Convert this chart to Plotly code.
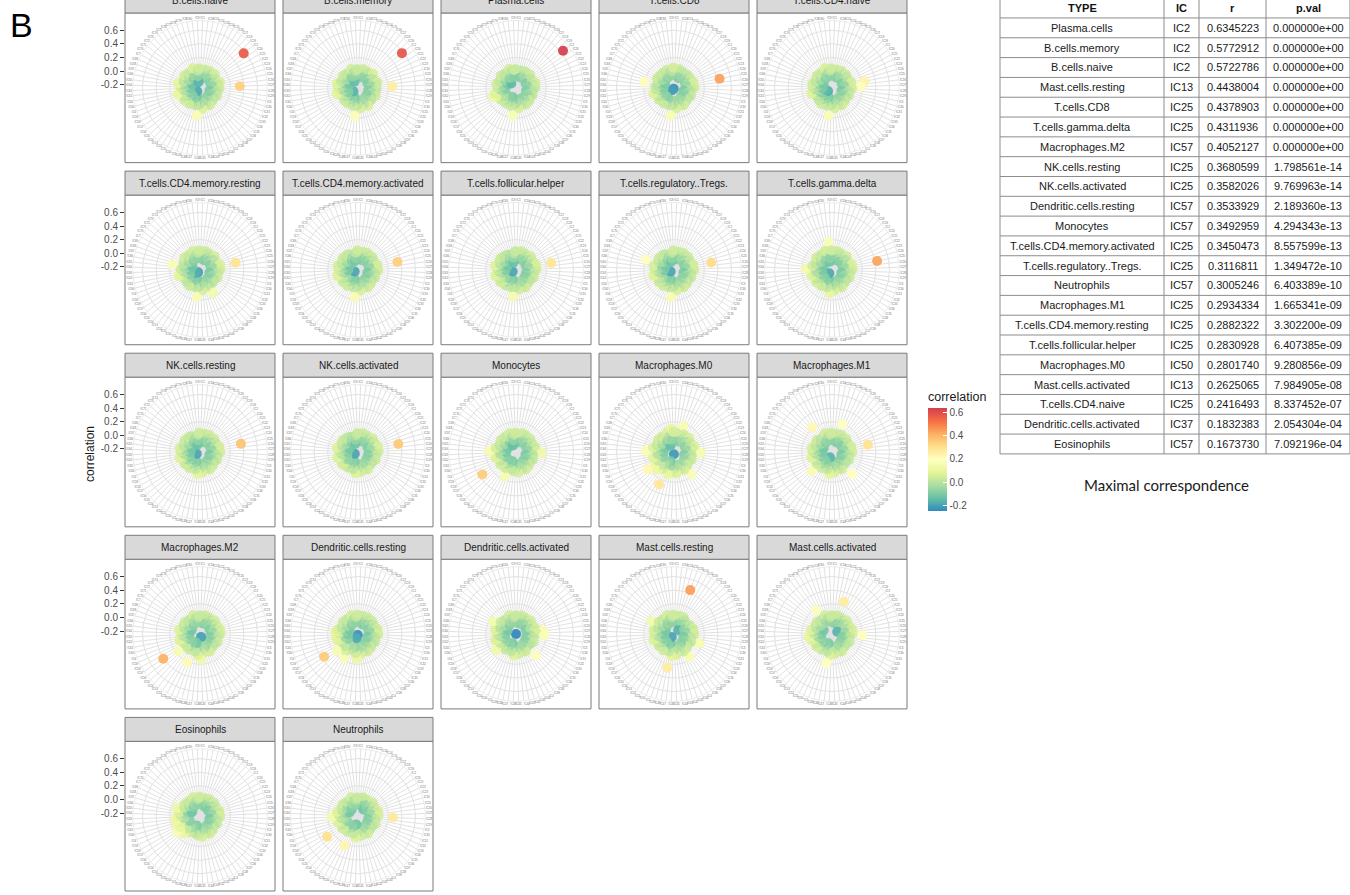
import plotly.graph_objects as go

W, H = 1350, 895

# ---------------- categories ----------------
IC_ORDER = [
    "IC1", "IC10", "IC11", "IC12", "IC13", "IC14", "IC15", "IC16", "IC17", "IC18",
    "IC19", "IC2", "IC20", "IC21", "IC22", "IC23", "IC24", "IC25", "IC26", "IC27",
    "IC28", "IC29", "IC3", "IC30", "IC31", "IC32", "IC33", "IC34", "IC35", "IC36",
    "IC37", "IC38", "IC39", "IC4", "IC40", "IC41", "IC42", "IC43", "IC44", "IC45",
    "IC46", "IC47", "IC48", "IC49", "IC5", "IC50", "IC51", "IC52", "IC53", "IC54",
    "IC55", "IC56", "IC57", "IC58", "IC59", "IC6", "IC60", "IC61", "IC62", "IC63",
    "IC64", "IC65", "IC66", "IC67", "IC68", "IC69", "IC7", "IC70", "IC71", "IC72",
    "IC73", "IC74", "IC75", "IC76", "IC77", "IC78", "IC79", "IC8", "IC80", "IC9",
]

# ---------------- series (correlation per IC, in IC_ORDER) ----------------
b_cells_naive = [
    -0.05, 0.01, -0.08, 0.03, -0.02, -0.09, 0.04, -0.04, 0.00, -0.06,
    0.05, 0.5722786, -0.03, 0.02, -0.08, -0.01, 0.06, 0.02, -0.06, 0.34,
    0.04, -0.04, 0.01, -0.10, -0.02, 0.03, -0.05, 0.00, -0.07, 0.01,
    0.02, -0.08, -0.01, 0.05, -0.04, 0.02, -0.06, -0.01, 0.07, -0.03,
    0.00, 0.17, -0.05, 0.02, -0.11, -0.01, -0.07, 0.04, -0.18, -0.09,
    0.02, 0.05, -0.04, 0.01, -0.08, 0.03, 0.10, -0.05, -0.01, -0.10,
    0.04, -0.02, 0.09, -0.06, 0.01, -0.12, 0.02, -0.04, 0.05, -0.03,
    0.00, 0.03, -0.08, 0.02, -0.05, 0.06, -0.16, -0.07, 0.01, 0.04]
b_cells_memory = [
    -0.04, 0.02, -0.07, 0.04, -0.03, -0.08, 0.03, -0.05, 0.01, -0.07,
    0.06, 0.5772912, -0.02, 0.01, -0.09, 0.00, 0.05, 0.03, -0.05, 0.26,
    0.03, -0.05, 0.02, -0.09, -0.03, 0.04, -0.04, -0.01, -0.08, 0.02,
    0.01, -0.07, 0.00, 0.06, -0.05, 0.01, -0.05, -0.02, 0.06, -0.04,
    0.01, 0.175, -0.06, 0.03, -0.10, -0.02, -0.06, 0.03, -0.02, -0.08,
    0.03, -0.16, -0.03, 0.00, -0.09, 0.04, 0.08, -0.04, -0.02, -0.09,
    0.05, -0.01, 0.07, -0.07, 0.02, -0.11, 0.01, -0.03, 0.04, -0.04,
    0.01, 0.02, -0.07, -0.14, -0.06, 0.05, -0.01, -0.06, 0.00, 0.03]
plasma_cells = [
    -0.06, 0.00, -0.07, 0.02, -0.01, -0.08, 0.03, -0.03, 0.02, -0.05,
    0.04, 0.6345223, -0.02, 0.01, -0.09, 0.00, 0.05, 0.01, -0.07, 0.04,
    0.03, -0.05, 0.00, -0.09, -0.01, 0.02, -0.04, -0.02, -0.06, 0.02,
    0.03, -0.07, -0.02, 0.04, -0.03, 0.01, -0.07, 0.00, 0.06, -0.04,
    -0.01, 0.17, -0.06, 0.03, -0.10, -0.02, -0.08, 0.03, -0.02, -0.08,
    0.01, 0.04, -0.03, 0.00, 0.08, 0.12, 0.07, -0.06, -0.02, -0.09,
    0.03, -0.03, 0.05, -0.05, 0.02, -0.11, 0.01, -0.05, 0.04, -0.15,
    -0.01, 0.02, -0.07, 0.01, -0.06, 0.05, 0.00, -0.08, 0.02, 0.03]
t_cells_cd8 = [
    -0.04, 0.02, -0.06, 0.04, -0.01, -0.09, 0.02, -0.05, 0.01, -0.06,
    0.03, 0.00, -0.04, 0.03, -0.07, -0.02, 0.05, 0.4378903, -0.05, 0.06,
    0.04, -0.03, 0.00, -0.10, -0.03, 0.03, -0.06, 0.01, -0.07, 0.00,
    0.02, -0.08, 0.00, 0.05, -0.05, 0.03, -0.04, -0.01, 0.06, -0.05,
    0.00, 0.17, -0.04, 0.02, -0.23, -0.01, -0.07, 0.03, -0.20, -0.08,
    0.02, 0.04, -0.05, 0.00, -0.07, 0.02, 0.07, -0.06, 0.01, -0.09,
    0.03, 0.00, 0.20, -0.06, 0.01, -0.10, 0.04, -0.04, 0.03, -0.03,
    0.01, 0.03, -0.07, 0.02, -0.05, 0.04, -0.01, -0.06, 0.00, 0.05]
t_cells_cd4_naive = [
    -0.05, 0.01, -0.07, 0.03, -0.02, -0.08, 0.04, -0.04, 0.01, -0.05,
    0.04, 0.01, -0.03, 0.02, -0.09, -0.01, 0.05, 0.2416493, -0.06, 0.18,
    0.05, -0.04, 0.01, -0.10, -0.02, 0.03, -0.05, 0.00, -0.07, 0.01,
    0.03, -0.07, -0.01, 0.05, -0.04, 0.02, -0.06, 0.00, 0.06, -0.03,
    0.01, 0.17, -0.05, 0.03, -0.10, -0.01, -0.07, 0.04, -0.03, -0.09,
    0.02, -0.17, -0.04, 0.01, -0.08, -0.15, 0.07, -0.05, -0.01, -0.10,
    0.04, -0.02, 0.05, -0.06, 0.01, -0.11, 0.02, -0.04, 0.04, -0.03,
    0.00, 0.03, -0.08, 0.02, -0.05, 0.06, -0.02, -0.07, 0.01, 0.04]
t_cells_cd4_memory_resting = [
    -0.04, 0.02, -0.08, 0.04, -0.01, -0.09, 0.03, -0.04, 0.00, -0.06,
    0.05, -0.01, -0.03, 0.01, -0.08, -0.01, 0.06, 0.2882322, -0.05, 0.06,
    0.04, -0.04, 0.02, -0.10, -0.02, 0.04, -0.05, 0.00, -0.07, 0.01,
    0.02, -0.08, -0.01, 0.14, -0.04, 0.02, -0.06, 0.00, 0.06, -0.03,
    0.00, 0.16, -0.05, 0.02, -0.11, -0.01, -0.07, 0.04, -0.20, -0.09,
    0.02, -0.17, -0.04, 0.01, -0.08, 0.03, 0.08, -0.05, -0.01, -0.10,
    0.04, -0.02, 0.17, -0.06, 0.01, -0.12, 0.02, -0.04, 0.05, -0.03,
    0.00, 0.03, -0.08, 0.02, -0.05, 0.05, -0.02, -0.07, 0.01, 0.04]
t_cells_cd4_memory_activated = [
    -0.05, 0.01, -0.07, 0.03, -0.02, -0.09, 0.04, -0.04, 0.01, -0.07,
    0.04, -0.02, -0.03, 0.02, -0.08, -0.01, 0.05, 0.3450473, -0.06, 0.05,
    0.05, -0.04, 0.01, -0.10, -0.02, 0.03, -0.05, 0.00, -0.07, 0.01,
    0.03, -0.08, -0.01, 0.05, -0.04, 0.02, -0.06, -0.01, 0.06, -0.03,
    0.00, 0.16, -0.05, 0.02, -0.10, -0.01, -0.07, 0.04, -0.03, -0.09,
    0.02, 0.04, -0.04, 0.01, -0.19, 0.03, 0.07, -0.05, -0.01, -0.10,
    0.04, -0.02, 0.06, -0.06, 0.01, -0.11, 0.02, -0.04, 0.04, -0.03,
    0.00, 0.03, -0.08, 0.02, -0.05, -0.11, -0.02, -0.07, 0.01, 0.04]
t_cells_follicular_helper = [
    -0.04, 0.02, -0.07, 0.04, -0.01, -0.08, 0.03, -0.05, 0.00, -0.06,
    0.05, -0.01, -0.04, 0.03, -0.09, -0.02, 0.06, 0.2830928, -0.05, 0.06,
    0.04, -0.03, 0.02, -0.09, -0.01, 0.04, -0.06, 0.01, -0.08, 0.00,
    0.02, -0.07, 0.00, 0.05, -0.05, 0.03, -0.05, -0.02, 0.05, -0.04,
    0.01, 0.15, -0.04, 0.02, -0.10, 0.00, -0.06, 0.03, -0.02, -0.08,
    0.03, 0.05, -0.05, 0.02, -0.19, 0.04, 0.07, -0.04, 0.00, -0.09,
    0.03, -0.01, 0.07, -0.07, 0.00, -0.11, 0.03, -0.03, 0.04, -0.04,
    0.01, 0.02, -0.08, 0.01, -0.04, -0.13, -0.01, -0.06, 0.00, 0.03]
t_cells_regulatory_tregs = [
    -0.05, 0.01, -0.08, 0.03, -0.02, -0.08, 0.04, -0.04, 0.01, -0.05,
    0.04, -0.02, -0.03, 0.02, -0.08, -0.01, 0.05, 0.3116811, -0.06, 0.05,
    0.05, -0.04, 0.01, -0.10, -0.02, 0.03, -0.05, 0.00, -0.07, 0.01,
    0.03, -0.07, -0.01, 0.05, -0.04, 0.02, -0.06, -0.01, 0.06, -0.03,
    0.00, 0.16, -0.05, 0.02, -0.10, -0.01, -0.07, 0.04, -0.03, -0.09,
    0.02, 0.04, -0.04, 0.01, -0.19, 0.03, 0.07, -0.05, -0.01, -0.10,
    0.04, -0.02, 0.06, -0.06, 0.20, -0.11, 0.02, -0.04, 0.04, -0.03,
    0.00, 0.03, -0.08, 0.02, -0.05, -0.12, -0.02, -0.07, 0.01, 0.04]
t_cells_gamma_delta = [
    -0.04, 0.02, -0.07, 0.04, -0.01, -0.09, 0.03, -0.05, 0.00, -0.08,
    0.05, -0.01, -0.03, 0.01, -0.08, -0.01, 0.06, 0.4311936, -0.05, 0.06,
    0.04, -0.04, 0.02, -0.10, -0.02, 0.04, -0.05, 0.00, -0.07, 0.01,
    0.02, -0.08, -0.01, 0.05, -0.04, 0.02, -0.06, 0.00, 0.06, -0.03,
    0.00, 0.10, -0.05, 0.02, -0.11, -0.01, -0.07, 0.04, -0.18, -0.09,
    0.02, 0.05, -0.04, 0.01, -0.08, 0.03, 0.07, -0.05, -0.01, -0.10,
    0.14, -0.02, 0.05, -0.06, 0.01, -0.11, 0.02, -0.04, 0.05, -0.03,
    0.00, 0.03, -0.08, 0.02, -0.05, 0.05, -0.12, -0.07, 0.17, 0.04]
nk_cells_resting = [
    -0.05, 0.01, -0.07, 0.03, -0.02, -0.09, 0.04, -0.04, 0.01, -0.06,
    0.04, -0.02, -0.03, 0.02, -0.08, -0.01, 0.05, 0.3680599, -0.06, 0.05,
    0.05, -0.04, 0.01, -0.10, -0.02, 0.03, -0.05, 0.00, -0.07, 0.01,
    0.03, -0.08, -0.01, 0.05, -0.04, 0.02, -0.06, -0.01, 0.06, -0.03,
    0.00, 0.08, -0.05, 0.02, -0.10, -0.01, -0.07, 0.04, -0.03, -0.09,
    0.02, 0.04, -0.04, -0.19, -0.08, 0.03, 0.07, -0.05, -0.01, -0.10,
    0.04, -0.02, 0.06, -0.06, 0.01, -0.11, 0.02, -0.04, 0.04, -0.03,
    0.00, 0.03, -0.08, 0.02, -0.05, -0.13, -0.02, -0.07, 0.01, 0.04]
nk_cells_activated = [
    -0.04, 0.02, -0.08, 0.04, -0.01, -0.08, 0.03, -0.05, 0.00, -0.06,
    0.05, -0.01, -0.04, 0.03, -0.09, -0.02, 0.06, 0.3582026, -0.05, 0.06,
    0.04, -0.03, 0.02, -0.09, -0.01, 0.04, -0.06, 0.01, -0.08, 0.00,
    0.02, -0.07, 0.00, 0.05, -0.05, 0.03, -0.05, -0.02, 0.05, -0.04,
    0.01, 0.07, -0.04, 0.02, -0.10, 0.00, -0.06, 0.03, -0.02, -0.08,
    0.03, 0.05, -0.05, -0.19, -0.07, 0.04, 0.07, -0.04, 0.00, -0.09,
    0.03, -0.01, 0.07, -0.07, 0.00, -0.11, 0.03, -0.03, 0.04, -0.04,
    0.01, 0.02, -0.08, 0.01, -0.04, -0.12, -0.01, -0.06, 0.00, 0.03]
monocytes = [
    -0.05, 0.01, -0.07, 0.03, 0.05, -0.09, 0.04, -0.04, 0.01, -0.06,
    0.04, -0.02, -0.03, 0.02, -0.08, -0.01, 0.05, 0.02, -0.06, 0.05,
    0.13, -0.04, 0.01, -0.10, -0.02, 0.03, -0.05, 0.00, -0.07, 0.01,
    0.03, -0.08, -0.01, 0.05, -0.04, 0.02, -0.06, -0.01, 0.06, -0.03,
    0.00, 0.04, -0.05, 0.02, -0.10, 0.15, -0.07, 0.04, -0.03, -0.09,
    0.02, 0.05, 0.3492959, 0.01, -0.08, 0.03, 0.07, -0.05, -0.01, -0.10,
    0.15, -0.02, 0.06, -0.06, 0.01, -0.11, 0.02, -0.04, 0.04, -0.03,
    0.00, 0.03, -0.08, 0.02, -0.14, 0.05, -0.02, -0.07, 0.01, 0.04]
macrophages_m0 = [
    -0.04, 0.03, -0.06, 0.05, 0.16, -0.08, 0.05, -0.03, 0.02, -0.05,
    0.06, -0.01, -0.02, 0.03, -0.07, 0.00, 0.07, 0.03, -0.05, 0.06,
    0.15, -0.03, 0.02, -0.09, -0.01, 0.04, -0.04, 0.01, -0.06, 0.02,
    0.04, 0.17, 0.00, 0.06, -0.03, 0.03, -0.05, 0.00, 0.07, -0.02,
    -0.21, 0.05, -0.04, 0.10, -0.10, 0.2801740, -0.06, 0.05, -0.02, 0.11,
    0.03, 0.12, 0.22, 0.02, -0.07, 0.04, 0.08, -0.04, 0.00, -0.09,
    0.17, -0.01, 0.07, -0.05, 0.02, -0.10, 0.03, -0.03, 0.05, -0.02,
    0.01, 0.04, -0.07, -0.14, -0.04, 0.06, -0.01, -0.06, 0.10, 0.05]
macrophages_m1 = [
    -0.05, 0.01, -0.07, 0.03, 0.19, -0.09, 0.04, -0.04, 0.01, -0.06,
    0.04, -0.02, -0.08, 0.02, -0.08, -0.01, 0.05, 0.2934334, -0.06, 0.05,
    0.05, -0.04, 0.01, -0.10, -0.02, 0.03, -0.05, 0.00, -0.07, 0.01,
    0.19, -0.08, -0.01, 0.05, -0.04, 0.02, -0.06, -0.01, 0.06, -0.03,
    0.00, 0.08, -0.05, 0.02, -0.16, -0.01, -0.07, 0.04, -0.03, -0.09,
    0.16, 0.04, -0.04, 0.01, -0.08, 0.03, 0.07, -0.05, -0.01, -0.10,
    0.04, -0.02, 0.06, -0.06, 0.01, -0.11, 0.02, -0.04, 0.04, -0.03,
    0.00, 0.22, -0.08, 0.02, -0.05, 0.05, -0.02, -0.07, 0.01, 0.04]
macrophages_m2 = [
    -0.04, 0.02, -0.08, 0.04, -0.01, -0.08, 0.03, -0.05, 0.00, -0.06,
    0.05, -0.01, -0.04, 0.03, -0.09, -0.02, 0.06, 0.03, -0.05, 0.06,
    0.04, -0.03, 0.02, -0.09, -0.01, 0.04, -0.06, 0.01, -0.08, 0.00,
    0.02, -0.07, 0.00, 0.05, -0.05, -0.20, -0.05, -0.02, 0.05, 0.13,
    0.01, 0.07, -0.04, 0.02, -0.10, 0.21, -0.11, 0.03, -0.02, -0.08,
    0.03, 0.16, 0.4052127, 0.02, -0.07, 0.04, 0.07, -0.04, 0.00, -0.09,
    0.03, -0.01, 0.07, -0.07, 0.00, -0.11, 0.03, -0.03, 0.04, -0.04,
    0.01, 0.02, -0.08, 0.01, -0.04, 0.05, -0.01, -0.06, 0.00, 0.03]
dendritic_cells_resting = [
    -0.05, 0.01, -0.07, 0.03, -0.02, -0.09, 0.04, -0.04, 0.01, -0.06,
    0.04, -0.02, -0.03, 0.02, -0.08, -0.01, 0.05, 0.02, -0.06, 0.05,
    0.05, -0.04, 0.01, -0.10, -0.02, 0.03, -0.05, 0.00, -0.07, 0.01,
    0.03, -0.08, -0.01, 0.05, -0.04, 0.02, -0.06, -0.01, 0.06, -0.03,
    0.12, 0.04, -0.05, -0.23, -0.18, -0.01, 0.16, 0.04, -0.03, 0.07,
    0.02, 0.15, 0.3533929, 0.01, -0.08, 0.03, 0.07, -0.05, 0.08, -0.10,
    0.04, 0.09, 0.06, -0.06, 0.01, -0.11, 0.02, -0.04, 0.04, -0.03,
    0.00, 0.03, -0.08, 0.02, -0.05, 0.05, -0.02, -0.07, 0.01, 0.04]
dendritic_cells_activated = [
    -0.04, 0.02, -0.08, 0.04, -0.01, -0.08, 0.03, -0.05, 0.00, -0.06,
    0.05, -0.01, -0.04, 0.03, -0.09, -0.02, 0.06, 0.03, 0.16, 0.06,
    0.17, -0.03, 0.02, -0.09, -0.01, 0.04, -0.244, 0.01, -0.08, 0.00,
    0.1832383, -0.07, 0.00, 0.05, -0.05, 0.03, -0.05, -0.02, 0.05, -0.04,
    0.01, 0.07, -0.04, 0.02, -0.10, 0.00, -0.06, 0.03, -0.02, -0.08,
    0.03, 0.13, -0.05, 0.02, -0.07, 0.04, 0.07, -0.04, 0.00, -0.09,
    0.03, -0.01, 0.07, -0.07, 0.00, -0.11, 0.14, -0.03, 0.04, -0.04,
    0.01, 0.02, -0.08, 0.01, -0.04, 0.05, -0.01, -0.06, 0.00, 0.03]
mast_cells_resting = [
    -0.05, 0.01, -0.07, 0.03, 0.4438004, -0.09, 0.04, -0.04, 0.01, -0.06,
    -0.16, -0.02, -0.03, 0.02, -0.08, -0.01, 0.05, 0.02, -0.06, 0.05,
    0.05, -0.04, 0.01, -0.10, 0.15, 0.03, -0.05, 0.00, -0.07, 0.01,
    0.03, -0.08, 0.16, 0.05, -0.04, 0.02, -0.06, -0.01, 0.06, -0.03,
    0.00, 0.08, 0.26, 0.02, -0.10, -0.01, -0.07, 0.04, -0.19, -0.09,
    0.02, 0.04, -0.04, 0.01, -0.08, 0.03, 0.07, -0.05, -0.01, -0.10,
    0.04, -0.02, 0.06, -0.06, 0.01, -0.11, 0.14, -0.04, 0.04, -0.03,
    0.00, 0.03, -0.08, -0.06, -0.05, 0.05, -0.02, -0.07, 0.01, 0.04]
mast_cells_activated = [
    -0.04, 0.02, -0.08, 0.04, 0.2625065, -0.08, 0.03, -0.05, 0.00, -0.06,
    0.05, -0.01, -0.04, 0.03, -0.16, -0.02, 0.06, 0.03, -0.05, 0.06,
    0.20, -0.03, 0.02, -0.09, -0.01, 0.04, -0.06, 0.01, -0.08, 0.00,
    0.02, -0.07, 0.00, 0.05, -0.05, 0.03, -0.05, -0.02, 0.05, -0.04,
    0.01, 0.07, 0.19, 0.02, -0.10, 0.00, -0.06, 0.03, -0.02, -0.08,
    0.03, 0.05, -0.05, 0.02, -0.07, 0.04, 0.07, -0.04, 0.10, -0.09,
    0.03, -0.01, 0.07, -0.07, 0.00, -0.11, 0.03, -0.03, 0.04, -0.04,
    0.01, 0.02, 0.18, 0.01, -0.04, 0.05, -0.01, -0.06, 0.00, 0.03]
eosinophils = [
    -0.05, 0.01, -0.07, 0.03, -0.02, -0.09, 0.04, -0.04, 0.01, -0.06,
    0.04, -0.02, -0.10, 0.02, -0.08, -0.01, 0.05, 0.02, -0.06, 0.05,
    0.05, -0.04, 0.01, -0.10, -0.02, 0.03, -0.05, 0.00, -0.07, 0.01,
    0.03, -0.08, -0.01, 0.05, -0.04, 0.02, -0.06, -0.01, 0.06, -0.03,
    0.00, 0.04, -0.05, 0.02, -0.10, -0.01, -0.07, 0.04, -0.03, 0.10,
    0.02, 0.12, 0.1673730, 0.09, -0.08, 0.11, 0.07, 0.12, -0.01, 0.10,
    0.04, -0.02, 0.06, -0.06, 0.11, -0.11, 0.02, -0.11, 0.04, -0.03,
    0.00, 0.03, -0.08, 0.02, -0.05, 0.05, -0.02, -0.07, 0.01, 0.04]
neutrophils = [
    -0.04, 0.02, -0.08, 0.04, -0.01, -0.08, 0.03, -0.05, -0.12, -0.06,
    0.05, -0.01, -0.04, 0.03, -0.09, -0.02, 0.06, 0.03, -0.05, 0.06,
    0.27, -0.03, 0.02, -0.09, -0.01, 0.04, -0.06, 0.01, -0.08, 0.00,
    0.02, -0.07, 0.00, 0.05, -0.05, 0.03, -0.05, -0.02, 0.05, -0.04,
    0.01, 0.07, -0.12, 0.02, -0.10, 0.23, -0.06, 0.03, -0.02, -0.08,
    0.03, 0.05, 0.3005246, 0.02, -0.07, 0.04, 0.07, -0.04, 0.00, 0.14,
    0.03, -0.01, 0.07, -0.07, 0.00, -0.11, 0.03, -0.03, 0.04, -0.04,
    -0.11, 0.02, -0.08, 0.01, -0.04, 0.05, -0.01, -0.06, 0.00, 0.03]

PANEL_NAMES = [
    "B.cells.naive", "B.cells.memory", "Plasma.cells", "T.cells.CD8", "T.cells.CD4.naive",
    "T.cells.CD4.memory.resting", "T.cells.CD4.memory.activated", "T.cells.follicular.helper",
    "T.cells.regulatory..Tregs.", "T.cells.gamma.delta",
    "NK.cells.resting", "NK.cells.activated", "Monocytes", "Macrophages.M0", "Macrophages.M1",
    "Macrophages.M2", "Dendritic.cells.resting", "Dendritic.cells.activated",
    "Mast.cells.resting", "Mast.cells.activated",
    "Eosinophils", "Neutrophils",
]
PANEL_VALUES = [
    b_cells_naive, b_cells_memory, plasma_cells, t_cells_cd8, t_cells_cd4_naive,
    t_cells_cd4_memory_resting, t_cells_cd4_memory_activated, t_cells_follicular_helper,
    t_cells_regulatory_tregs, t_cells_gamma_delta,
    nk_cells_resting, nk_cells_activated, monocytes, macrophages_m0, macrophages_m1,
    macrophages_m2, dendritic_cells_resting, dendritic_cells_activated,
    mast_cells_resting, mast_cells_activated,
    eosinophils, neutrophils,
]

R_TICKS = [-0.2, 0.0, 0.2, 0.4, 0.6]
R_TICK_TEXT = ["-0.2", "0.0", "0.2", "0.4", "0.6"]

# ---------------- table ----------------
TABLE_HEADER = ["TYPE", "IC", "r", "p.val"]
TABLE_TYPE = [
    "Plasma.cells", "B.cells.memory", "B.cells.naive", "Mast.cells.resting", "T.cells.CD8",
    "T.cells.gamma.delta", "Macrophages.M2", "NK.cells.resting", "NK.cells.activated",
    "Dendritic.cells.resting", "Monocytes", "T.cells.CD4.memory.activated",
    "T.cells.regulatory..Tregs.", "Neutrophils", "Macrophages.M1", "T.cells.CD4.memory.resting",
    "T.cells.follicular.helper", "Macrophages.M0", "Mast.cells.activated", "T.cells.CD4.naive",
    "Dendritic.cells.activated", "Eosinophils",
]
TABLE_IC = [
    "IC2", "IC2", "IC2", "IC13", "IC25", "IC25", "IC57", "IC25", "IC25", "IC57", "IC57",
    "IC25", "IC25", "IC57", "IC25", "IC25", "IC25", "IC50", "IC13", "IC25", "IC37", "IC57",
]
TABLE_R = [
    "0.6345223", "0.5772912", "0.5722786", "0.4438004", "0.4378903", "0.4311936",
    "0.4052127", "0.3680599", "0.3582026", "0.3533929", "0.3492959", "0.3450473",
    "0.3116811", "0.3005246", "0.2934334", "0.2882322", "0.2830928", "0.2801740",
    "0.2625065", "0.2416493", "0.1832383", "0.1673730",
]
TABLE_P = [
    "0.000000e+00", "0.000000e+00", "0.000000e+00", "0.000000e+00", "0.000000e+00",
    "0.000000e+00", "0.000000e+00", "1.798561e-14", "9.769963e-14", "2.189360e-13",
    "4.294343e-13", "8.557599e-13", "1.349472e-10", "6.403389e-10", "1.665341e-09",
    "3.302200e-09", "6.407385e-09", "9.280856e-09", "7.984905e-08", "8.337452e-07",
    "2.054304e-04", "7.092196e-04",
]

# ---------------- geometry / style ----------------
N_COLS = 5
COL0_CX, COL_PITCH = 200, 158
ROW0_CY, ROW_PITCH = 88, 182.5
HALF = 75          # half panel size (px)
STRIP_H = 24
R_OUT = 67.5       # outer ring radius (0.45 of panel)
GRID = "#E2E2E2"
FRAME = "#7A7A7A"
SPECTRAL_REV = ["#3288BD", "#66C2A5", "#ABDDA4", "#E6F598", "#FFFFBF",
                "#FEE08B", "#FDAE61", "#F46D43", "#D53E4F"]
FONT = "Liberation Sans, Arial, sans-serif"

TBL_X = [1000, 1164, 1199, 1266, 1350]   # column boundaries (px)
TBL_TOP, TBL_HEAD_H, TBL_ROW_H = -2, 20, 19.86
TBL_LINE = "#8C8C8C"

all_vals = [v for vals in PANEL_VALUES for v in vals]
R_MIN, R_MAX = min(all_vals), max(all_vals)
R_EXT = R_MIN + (R_MAX - R_MIN) * 0.45 / 0.4


def fx(px):
    return px / W


def fy(py):
    return 1 - py / H


fig = go.Figure()
layout = {}
shapes, annotations = [], []

for k, (name, vals) in enumerate(zip(PANEL_NAMES, PANEL_VALUES)):
    row, col = divmod(k, N_COLS)
    cx = COL0_CX + COL_PITCH * col
    cy = ROW0_CY + ROW_PITCH * row
    pname = "polar" if k == 0 else f"polar{k + 1}"
    layout[pname] = dict(
        domain=dict(x=[fx(cx - R_OUT), fx(cx + R_OUT)], y=[fy(cy + R_OUT), fy(cy - R_OUT)]),
        bgcolor="rgba(0,0,0,0)",
        radialaxis=dict(range=[R_MIN, R_EXT], tickmode="array", tickvals=R_TICKS,
                        showticklabels=False, ticks="", showline=False,
                        gridcolor=GRID, gridwidth=0.7, layer="below traces"),
        angularaxis=dict(type="category", categoryorder="array", categoryarray=IC_ORDER,
                         rotation=90 - 180 / len(IC_ORDER), direction="clockwise",
                         tickmode="array", tickvals=IC_ORDER, ticktext=IC_ORDER, ticks="",
                         showline=True, linecolor=GRID, linewidth=0.7,
                         gridcolor=GRID, gridwidth=0.7,
                         tickfont=dict(size=2.8, color="#6E6E6E", family=FONT),
                         layer="below traces"),
    )
    fig.add_trace(go.Scatterpolar(
        r=vals, theta=IC_ORDER, subplot=pname, mode="markers",
        marker=dict(color=vals, coloraxis="coloraxis", size=10, opacity=0.93,
                    line=dict(width=0)),
        showlegend=False, hoverinfo="skip"))
    shapes.append(dict(type="rect", xref="paper", yref="paper",
                       x0=fx(cx - HALF), x1=fx(cx + HALF), y0=fy(cy + HALF), y1=fy(cy - HALF),
                       line=dict(color=FRAME, width=1), fillcolor="rgba(0,0,0,0)", layer="below"))
    shapes.append(dict(type="rect", xref="paper", yref="paper",
                       x0=fx(cx - HALF), x1=fx(cx + HALF),
                       y0=fy(cy - HALF), y1=fy(cy - HALF - STRIP_H),
                       line=dict(color=FRAME, width=1), fillcolor="#D9D9D9", layer="below"))
    annotations.append(dict(text=name, xref="paper", yref="paper", x=fx(cx),
                            y=fy(cy - HALF - STRIP_H / 2), showarrow=False,
                            xanchor="center", yanchor="middle",
                            font=dict(size=10, color="#1A1A1A", family=FONT)))

# left-hand radial tick labels, one axis per row
n_rows = (len(PANEL_NAMES) + N_COLS - 1) // N_COLS
for row in range(n_rows):
    cy = ROW0_CY + ROW_PITCH * row
    sfx = "" if row == 0 else str(row + 1)
    layout[f"xaxis{sfx}"] = dict(domain=[fx(COL0_CX - HALF), fx(COL0_CX + HALF)],
                                 range=[0, 1], visible=False, anchor=f"y{sfx}")
    layout[f"yaxis{sfx}"] = dict(domain=[fy(cy), fy(cy - R_OUT)], anchor=f"x{sfx}",
                                 range=[R_MIN, R_EXT], tickmode="array", tickvals=R_TICKS,
                                 ticktext=R_TICK_TEXT, ticks="outside", ticklen=4,
                                 tickcolor="#333333", tickwidth=1, showgrid=False,
                                 zeroline=False, showline=False,
                                 tickfont=dict(size=10, color="#4D4D4D", family=FONT))
    fig.add_trace(go.Scatter(x=[None], y=[None], xaxis=f"x{sfx}", yaxis=f"y{sfx}",
                             showlegend=False, hoverinfo="skip"))

# ---------------- table (lines + text) ----------------
columns = [TABLE_TYPE, TABLE_IC, TABLE_R, TABLE_P]
n_tbl = len(TABLE_TYPE)
row_tops = [TBL_TOP] + [TBL_TOP + TBL_HEAD_H + TBL_ROW_H * i for i in range(n_tbl + 1)]
tbl_bottom = row_tops[-1]
for yline in row_tops:
    shapes.append(dict(type="line", xref="paper", yref="paper",
                       x0=fx(TBL_X[0]), x1=fx(TBL_X[-1]), y0=fy(yline), y1=fy(yline),
                       line=dict(color=TBL_LINE, width=1)))
for xline in TBL_X:
    shapes.append(dict(type="line", xref="paper", yref="paper",
                       x0=fx(xline), x1=fx(xline), y0=fy(TBL_TOP), y1=fy(tbl_bottom),
                       line=dict(color=TBL_LINE, width=1)))
for j, head in enumerate(TABLE_HEADER):
    xc = (TBL_X[j] + TBL_X[j + 1]) / 2
    annotations.append(dict(text=f"<b>{head}</b>", xref="paper", yref="paper", x=fx(xc),
                            y=fy(TBL_TOP + TBL_HEAD_H / 2), showarrow=False,
                            xanchor="center", yanchor="middle",
                            font=dict(size=11, color="#111111", family=FONT)))
    for i, txt in enumerate(columns[j]):
        yc = row_tops[i + 1] + TBL_ROW_H / 2
        annotations.append(dict(text=txt, xref="paper", yref="paper", x=fx(xc), y=fy(yc),
                                showarrow=False, xanchor="center", yanchor="middle",
                                font=dict(size=11, color="#1A1A1A", family=FONT)))

annotations += [
    dict(text="B", xref="paper", yref="paper", x=fx(22), y=fy(25), showarrow=False,
         xanchor="center", yanchor="middle", font=dict(size=34, color="#000000", family=FONT)),
    dict(text="correlation", xref="paper", yref="paper", x=fx(90), y=fy(455), showarrow=False,
         textangle=-90, xanchor="center", yanchor="middle",
         font=dict(size=12, color="#1A1A1A", family=FONT)),
    dict(text="Maximal correspondence", xref="paper", yref="paper", x=fx(1166), y=fy(486),
         showarrow=False, xanchor="center", yanchor="middle",
         font=dict(size=15, color="#1A1A1A", family="Lato, Open Sans, sans-serif")),
]

fig.update_layout(
    **layout,
    width=W, height=H, autosize=False,
    margin=dict(l=0, r=0, t=0, b=0),
    paper_bgcolor="white", plot_bgcolor="white",
    showlegend=False,
    shapes=shapes, annotations=annotations,
    coloraxis=dict(
        cmin=R_MIN, cmax=R_MAX,
        colorscale=[[i / (len(SPECTRAL_REV) - 1), c] for i, c in enumerate(SPECTRAL_REV)],
        colorbar=dict(
            title=dict(text="correlation", side="top",
                       font=dict(size=12.5, color="#1A1A1A", family=FONT)),
            x=fx(928), xanchor="left", xpad=0,
            y=fy(451), yanchor="middle", ypad=0,
            len=122, lenmode="pixels", thickness=19, thicknessmode="pixels",
            outlinewidth=0, tickmode="array", tickvals=R_TICKS, ticktext=R_TICK_TEXT,
            ticks="inside", ticklen=4, tickcolor="white",
            tickfont=dict(size=10, color="#4D4D4D", family=FONT),
        ),
    ),
)

fig.write_html("out.html", config={"displayModeBar": False},
               post_script="document.body.style.margin='0';")
